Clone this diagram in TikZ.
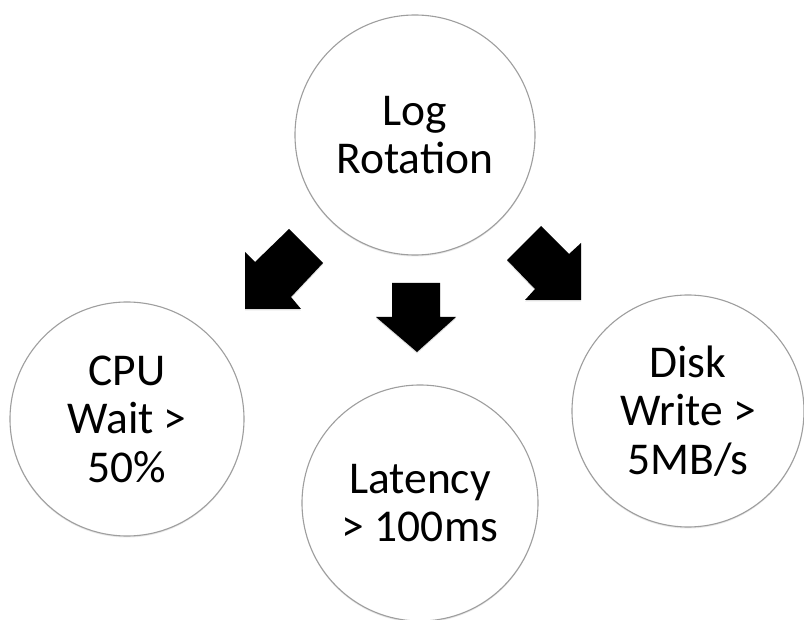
\documentclass[tikz,border=0pt]{standalone}
\usepackage{fontspec}
\setmainfont{Carlito}
\usetikzlibrary{shadows}
\begin{document}
\begin{tikzpicture}[x=1pt,y=-1pt,
  bubble/.style={circle, draw=black!38, line width=1.1pt, fill=white,
    inner sep=0pt, align=center,
    font=\fontsize{45.5}{48.5}\selectfont,
    drop shadow={opacity=0.18, shadow xshift=0pt, shadow yshift=-1.5pt}},
  blockarrow/.style={fill=black,
    drop shadow={opacity=0.25, shadow xshift=0pt, shadow yshift=-1.5pt}}]
  \useasboundingbox (0,0) rectangle (804,620);

  % states
  \node[bubble, minimum size=240pt] (log) at (415,135) {Log\\Rotation};
  \node[bubble, minimum size=234pt] (cpu) at (127,419) {CPU\\Wait >\\50\%};
  \node[bubble, minimum size=236pt] (lat) at (420,503) {Latency\\> 100ms};
  \node[bubble, minimum size=232pt] (disk) at (688,411) {Disk\\Write >\\5MB/s};

  % block arrows pointing from the top state to the three below
  \path[blockarrow] (245,309) -- (245,252) -- (255,262) -- (289,229)
    -- (323,263) -- (291,297) -- (301,309) -- cycle;
  \path[blockarrow] (392,283) -- (440,283) -- (440,317) -- (456,317)
    -- (417,352) -- (376,317) -- (392,317) -- cycle;
  \path[blockarrow] (581,300) -- (581,243) -- (569,254) -- (541,226)
    -- (507,260) -- (535,289) -- (525,300) -- cycle;
\end{tikzpicture}
\end{document}
